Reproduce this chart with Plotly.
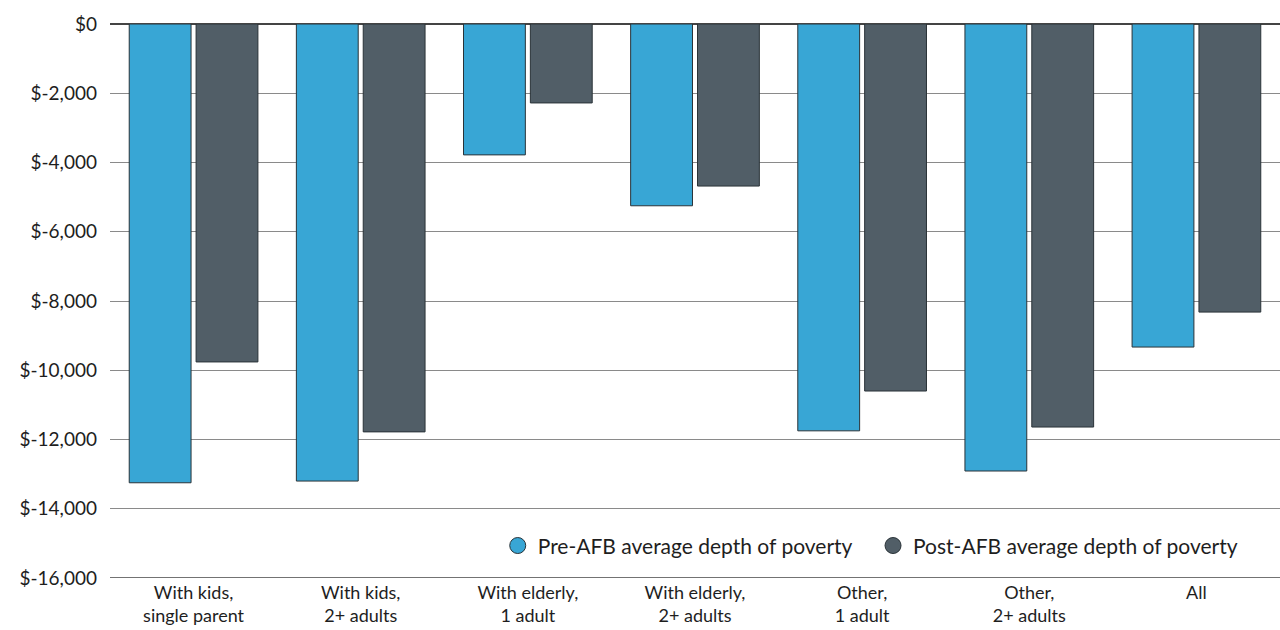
import plotly.graph_objects as go

categories = [
    "With kids,<br>single parent",
    "With kids,<br>2+ adults",
    "With elderly,<br>1 adult",
    "With elderly,<br>2+ adults",
    "Other,<br>1 adult",
    "Other,<br>2+ adults",
    "All",
]
pre_afb = [-13250, -13200, -3780, -5250, -11750, -12910, -9330]
post_afb = [-9760, -11780, -2280, -4680, -10600, -11640, -8320]
y_ticks = [0, -2000, -4000, -6000, -8000, -10000, -12000, -14000, -16000]
y_tick_text = ["$0", "$-2,000", "$-4,000", "$-6,000", "$-8,000", "$-10,000",
               "$-12,000", "$-14,000", "$-16,000"]

PRE_COLOR = "#38A6D5"
POST_COLOR = "#515E67"
EDGE = "#2a3338"
FONT = "Lato, 'Open Sans', sans-serif"
TEXT = "#1e1e1e"

fig = go.Figure()
fig.add_trace(go.Bar(x=categories, y=pre_afb, name="Pre-AFB average depth of poverty",
                     marker=dict(color=PRE_COLOR, line=dict(color=EDGE, width=1)),
                     showlegend=False))
fig.add_trace(go.Bar(x=categories, y=post_afb, name="Post-AFB average depth of poverty",
                     marker=dict(color=POST_COLOR, line=dict(color=EDGE, width=1)),
                     showlegend=False))

# circular legend keys (non-breaking spaces widen the gap between entries)
legend_items = [("Pre-AFB average depth of poverty\u00a0\u00a0\u00a0", PRE_COLOR),
                ("Post-AFB average depth of poverty", POST_COLOR)]
for name, color in legend_items:
    fig.add_trace(go.Scatter(x=[None], y=[None], mode="markers", name=name,
                             marker=dict(symbol="circle", size=20, color=color,
                                         line=dict(color=EDGE, width=1))))

fig.update_layout(
    width=1280, height=630,
    margin=dict(l=110, r=0, t=24, b=52),
    paper_bgcolor="white", plot_bgcolor="white",
    barmode="group", bargap=0.2, bargroupgap=0.075,
    font=dict(family=FONT, size=19, color=TEXT),
    legend=dict(orientation="h", x=0.969, xanchor="right", y=0.058, yanchor="middle",
                bgcolor="rgba(0,0,0,0)", font=dict(size=21, color=TEXT),
                itemsizing="trace", traceorder="normal", itemwidth=30),
    xaxis=dict(showgrid=False, ticks="", tickfont=dict(size=18, color=TEXT),
               showline=False, automargin=False, ticklabelstandoff=2),
    yaxis=dict(range=[-16000, 0], tickvals=y_ticks, ticktext=y_tick_text,
               showgrid=True, gridcolor="#8a8a8a", gridwidth=1,
               zeroline=True, zerolinecolor="#444", zerolinewidth=1.5,
               ticks="", ticklabelstandoff=12,
               tickfont=dict(size=19, color=TEXT), automargin=False),
    showlegend=True,
)
# baseline at the bottom of the plot
fig.add_shape(type="line", xref="paper", yref="y", x0=0, x1=1, y0=-16000, y1=-16000,
              line=dict(color="#444", width=1.5), layer="above")

fig.write_html("out.html")
